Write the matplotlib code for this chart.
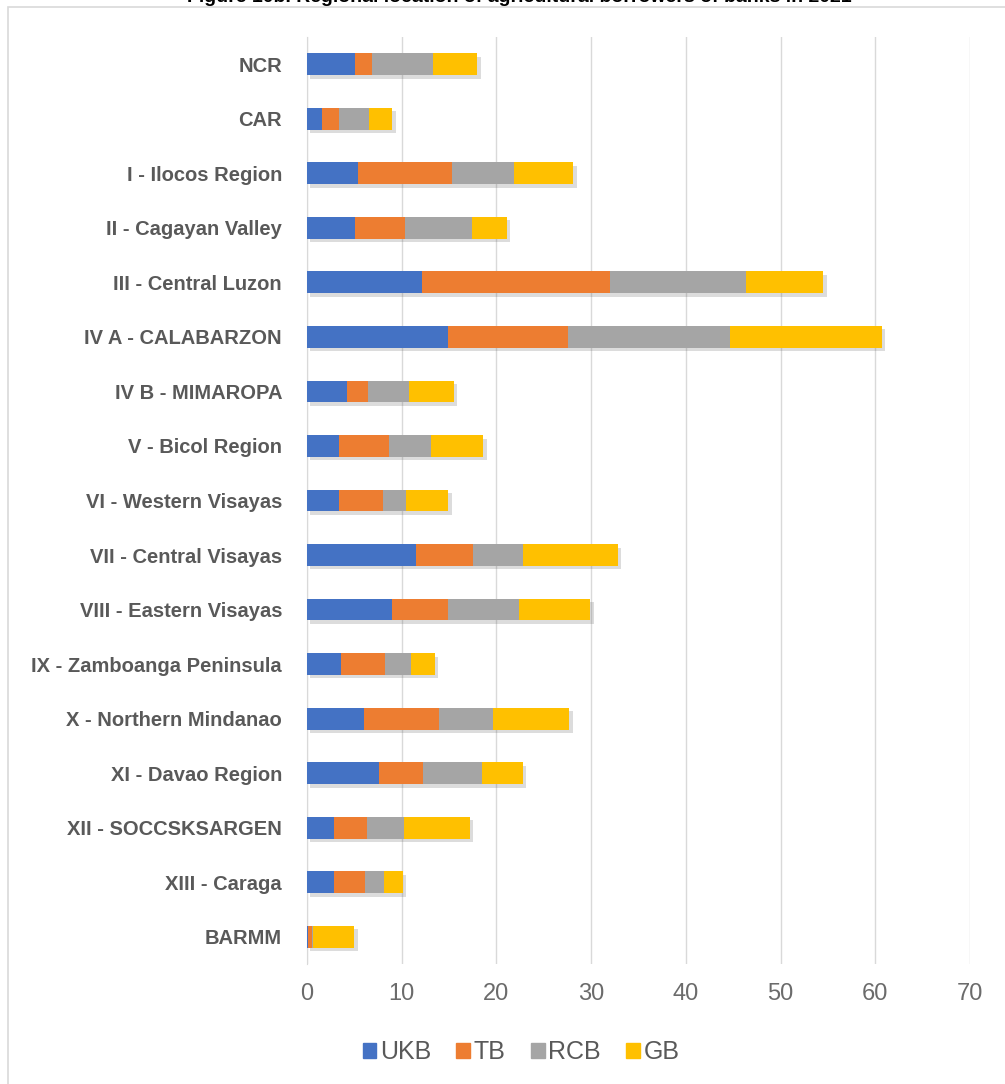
import numpy as np
import matplotlib.pyplot as plt
import matplotlib.patheffects as pe
from matplotlib.patches import Rectangle

# Regional location of agricultural borrowers of banks (stacked by bank type)

regions = ['NCR', 'CAR', 'I - Ilocos Region', 'II - Cagayan Valley',
           'III - Central Luzon', 'IV A - CALABARZON', 'IV B - MIMAROPA',
           'V - Bicol Region', 'VI - Western Visayas', 'VII - Central Visayas',
           'VIII - Eastern Visayas', 'IX - Zamboanga Peninsula',
           'X - Northern Mindanao', 'XI - Davao Region', 'XII - SOCCSKSARGEN',
           'XIII - Caraga', 'BARMM']

ukb = [5.1, 1.6, 5.4, 5.1, 12.1, 14.9, 4.2, 3.4, 3.4, 11.5, 9.0, 3.6, 6.0, 7.6, 2.9, 2.9, 0.1]
tb  = [1.8, 1.8, 9.9, 5.2, 19.9, 12.7, 2.2, 5.3, 4.6, 6.0, 5.9, 4.6, 7.9, 4.7, 3.4, 3.2, 0.4]
rcb = [6.4, 3.1, 6.6, 7.1, 14.4, 17.1, 4.4, 4.4, 2.5, 5.3, 7.5, 2.8, 5.7, 6.2, 3.9, 2.0, 0.1]
gb  = [4.7, 2.5, 6.2, 3.7, 8.1, 16.0, 4.7, 5.5, 4.4, 10.0, 7.5, 2.5, 8.1, 4.3, 7.0, 2.0, 4.4]

series = {'UKB': ukb, 'TB': tb, 'RCB': rcb, 'GB': gb}
colors = {'UKB': '#4472C4', 'TB': '#ED7D31', 'RCB': '#A5A5A5', 'GB': '#FFC000'}

plt.rcParams['font.family'] = ['Liberation Sans', 'DejaVu Sans']

W, H = 1005, 1084
fig = plt.figure(figsize=(W / 100, H / 100), dpi=100)

# chart-area frame (runs off the right and bottom edges)
fig.patches.append(Rectangle((8 / W, -0.05), 1.1, 1 - 7 / H + 0.05,
                             transform=fig.transFigure, fill=False,
                             edgecolor='#d9d9d9', lw=1.2))

# title, cut off at the top like in the source
fig.text(519 / W, 1 - 6 / H, 'Figure 10b. Regional location of agricultural borrowers of banks in 2021',
         ha='center', va='bottom', fontsize=14, fontweight='bold', color='black')

ax = fig.add_axes([307 / W, 1 - 964 / H, (970 - 307) / W, (964 - 37) / H])

y = np.arange(len(regions))
left = np.zeros(len(regions))
shadow = [pe.SimplePatchShadow(offset=(2.5, -2.5), alpha=0.22, shadow_rgbFace='#606060'),
          pe.Normal()]
for name, vals in series.items():
    vals = np.array(vals)
    bars = ax.barh(y, vals, left=left, height=0.4, color=colors[name], zorder=3)
    for b in bars:
        b.set_path_effects(shadow)
    left += vals

ax.set_xlim(0, 70)
ax.set_xticks(np.arange(0, 71, 10))
ax.set_ylim(len(regions) - 0.5, -0.5)
ax.set_yticks(y)
ax.set_yticklabels(regions, fontsize=14.5, fontweight='bold', color='#595959')
ax.tick_params(axis='x', labelsize=17, colors='#6b6b6b', length=0, pad=14)
ax.tick_params(axis='y', length=0, pad=18)
ax.grid(axis='x', color='#d9d9d9', lw=1, zorder=0)
for s in ['top', 'right', 'bottom']:
    ax.spines[s].set_visible(False)
ax.spines['left'].set_color('#d9d9d9')
ax.spines['left'].set_zorder(1)

handles = [Rectangle((0, 0), 1, 1, color=colors[k]) for k in series]
leg = fig.legend(handles, list(series), loc='center',
                 bbox_to_anchor=(521 / W, 1 - 1052 / H), ncol=4,
                 frameon=False, fontsize=18, handlelength=0.55, handleheight=0.55,
                 handletextpad=0.15, columnspacing=1.0)
for t in leg.get_texts():
    t.set_color('#595959')

fig.savefig('out.png', dpi=100)
